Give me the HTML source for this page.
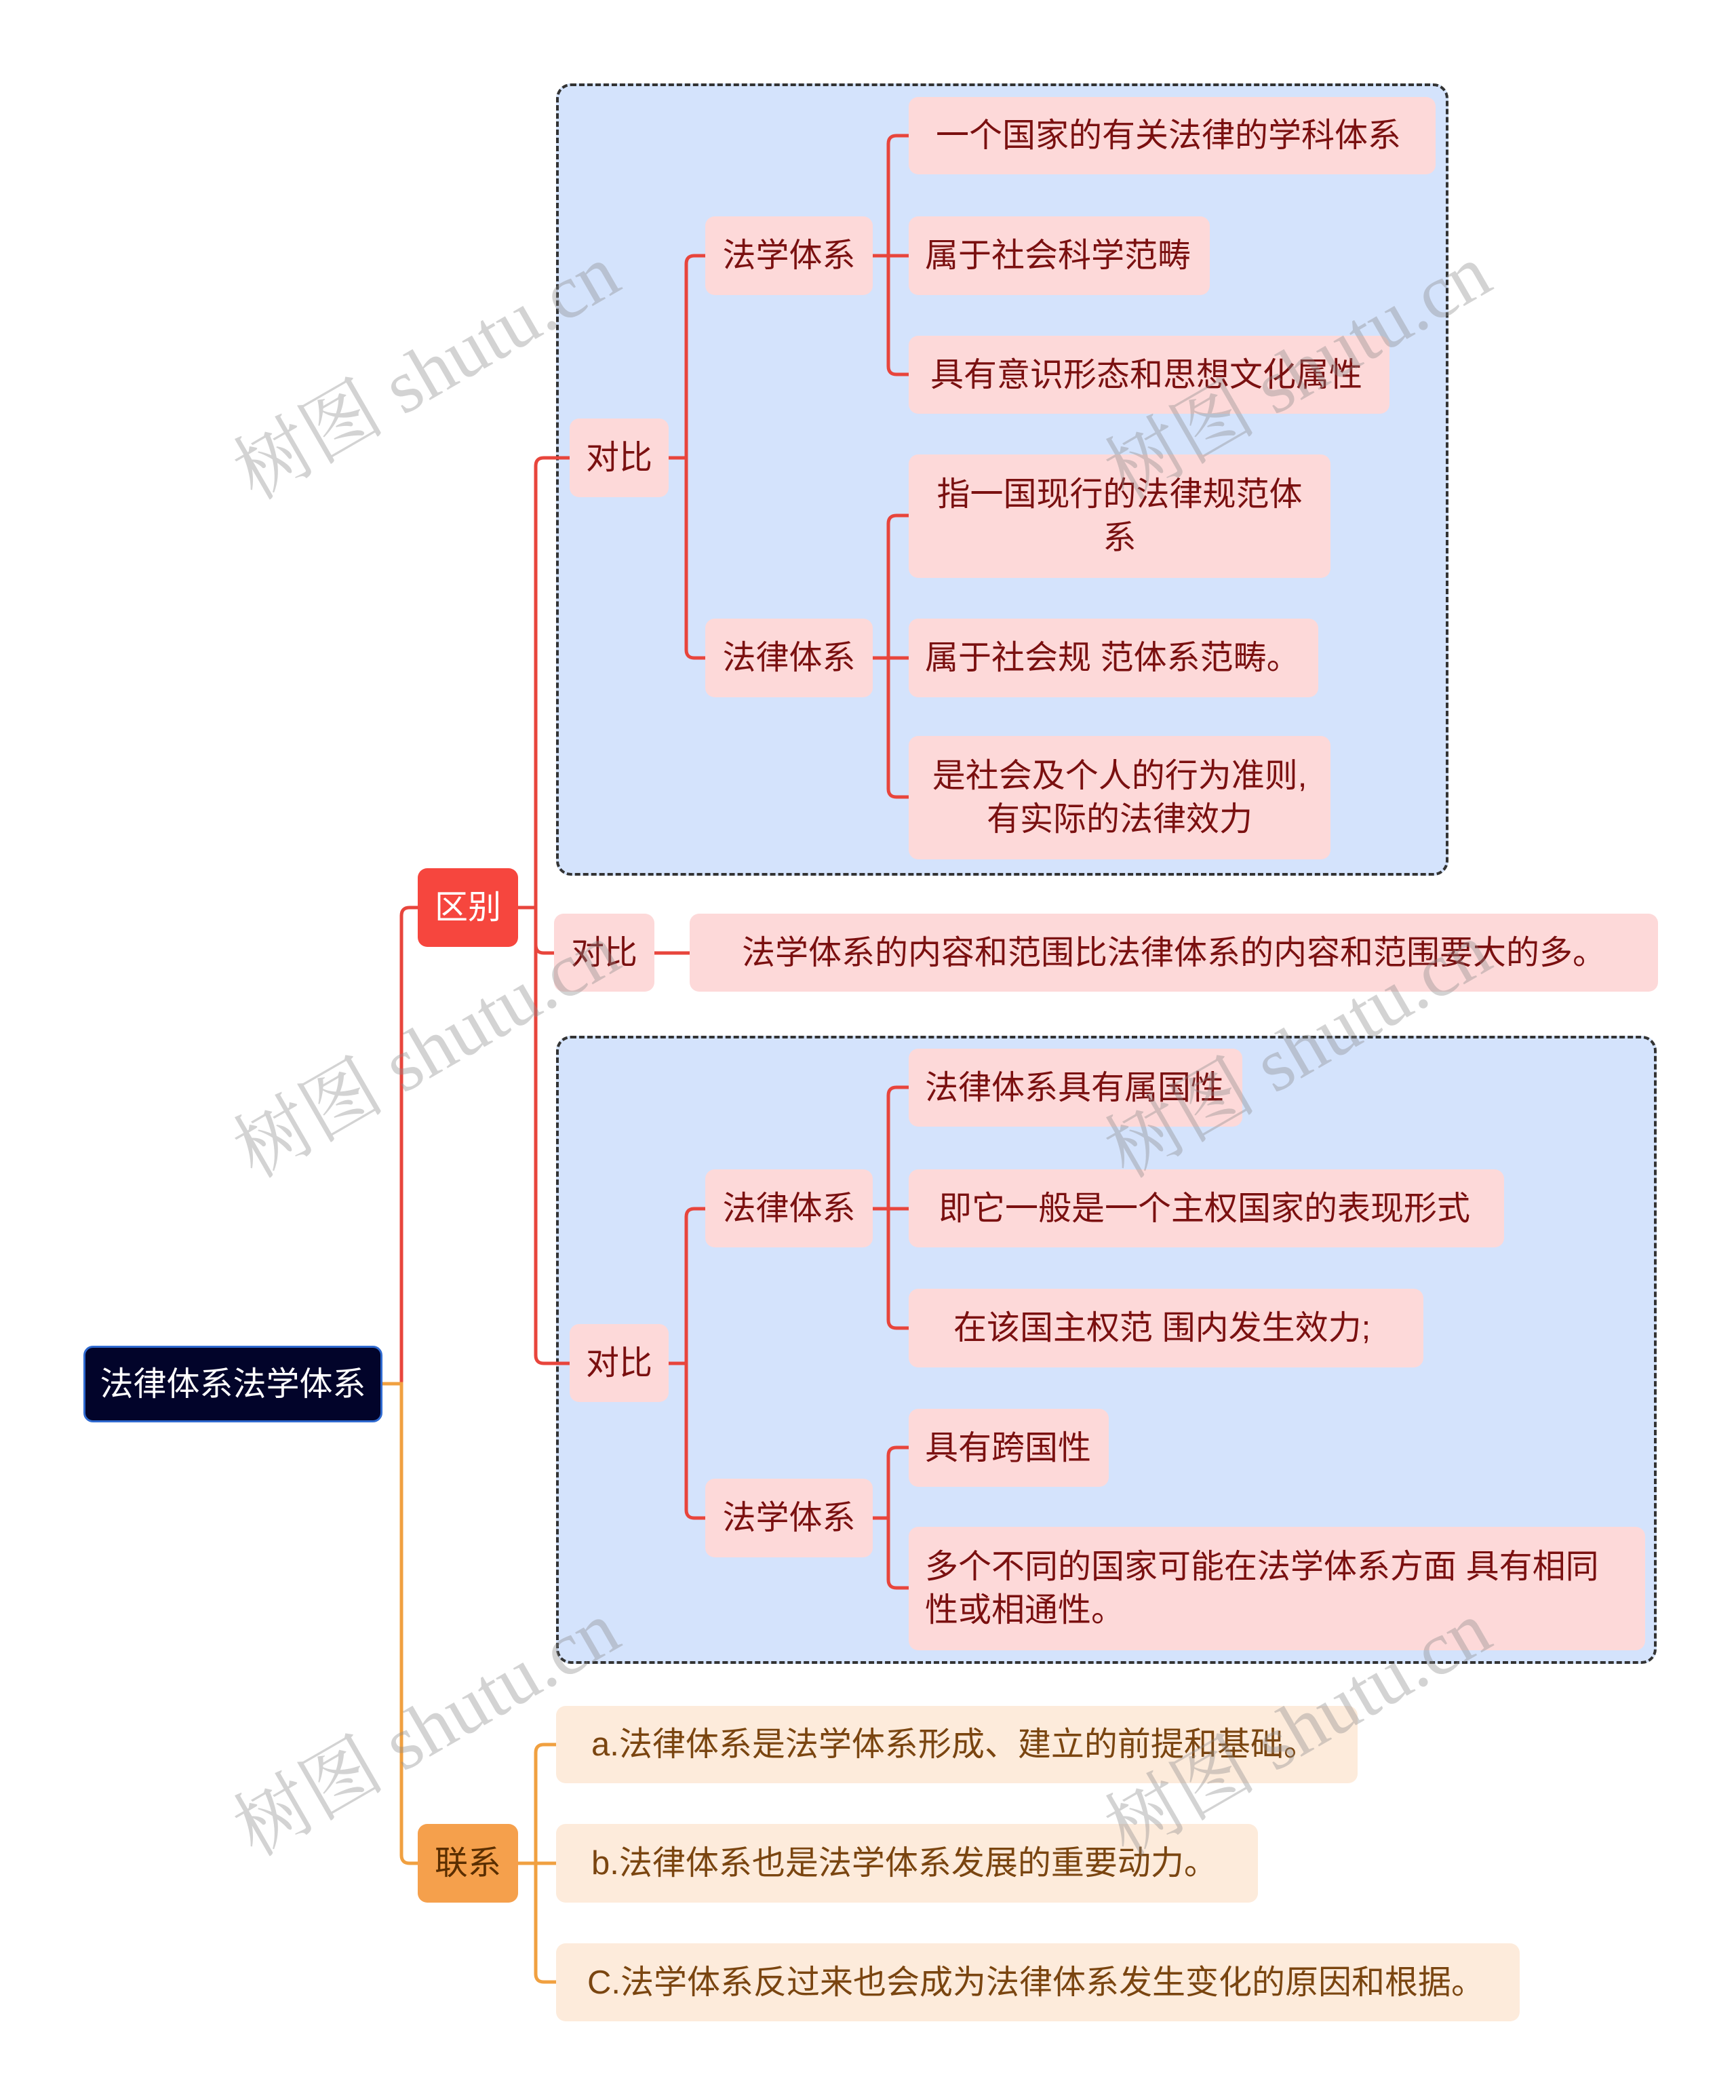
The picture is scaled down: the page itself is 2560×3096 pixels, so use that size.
<!DOCTYPE html>
<html><head><meta charset="utf-8"><style>
html,body{margin:0;padding:0;background:#fff;}
body{width:2560px;height:3096px;position:relative;overflow:hidden;font-family:"Liberation Sans","Noto Sans CJK SC",sans-serif;}
.n{position:absolute;box-sizing:border-box;display:flex;align-items:center;border-radius:14px;font-size:49px;line-height:64px;}
.p{background:#fdd9d9;color:#7a1010;padding:0 24px;}
.c{justify-content:center;text-align:center;}
.o{background:#fdebdb;color:#7a4510;padding:0 52px;}
.box{position:absolute;box-sizing:border-box;background:#d4e3fc;border:4px dashed #333;border-radius:22px;}
.wm{position:absolute;font-family:"Liberation Serif","Noto Serif CJK SC",serif;font-size:112px;color:rgba(140,140,140,0.38);transform:rotate(-30deg);white-space:nowrap;transform-origin:center;}
svg{position:absolute;left:0;top:0;}
</style></head><body>
<div class="box" style="left:820px;top:123px;width:1316px;height:1168px;"></div>
<div class="box" style="left:820px;top:1527px;width:1623px;height:926px;"></div>

<svg width="2560" height="3096" fill="none" stroke-width="5">
<g stroke="#e8453c">
<path d="M562 2040 H592 V1350 Q592 1338 604 1338 H616"/>
<path d="M764 1338 H790 V687 Q790 675 802 675 H840"/>
<path d="M790 1338 V1393 Q790 1405 802 1405 H817"/>
<path d="M790 1338 V1998 Q790 2010 802 2010 H840"/>
<path d="M986 675 H1012 V389 Q1012 377 1024 377 H1040"/>
<path d="M1012 675 V958 Q1012 970 1024 970 H1040"/>
<path d="M1287 377 H1310 V212 Q1310 200 1322 200 H1340"/>
<path d="M1310 377 H1340"/>
<path d="M1310 377 V540 Q1310 552 1322 552 H1340"/>
<path d="M1287 970 H1310 V772 Q1310 760 1322 760 H1340"/>
<path d="M1310 970 H1340"/>
<path d="M1310 970 V1163 Q1310 1175 1322 1175 H1340"/>
<path d="M965 1405 H1017"/>
<path d="M986 2010 H1012 V1794 Q1012 1782 1024 1782 H1040"/>
<path d="M1012 2010 V2226 Q1012 2238 1024 2238 H1040"/>
<path d="M1287 1782 H1310 V1615 Q1310 1603 1322 1603 H1340"/>
<path d="M1310 1782 H1340"/>
<path d="M1310 1782 V1946 Q1310 1958 1322 1958 H1340"/>
<path d="M1287 2238 H1310 V2146 Q1310 2134 1322 2134 H1340"/>
<path d="M1310 2238 V2329 Q1310 2341 1322 2341 H1340"/>
</g>
<g stroke="#f0a040">
<path d="M562 2040 H592 V2735 Q592 2747 604 2747 H616"/>
<path d="M764 2747 H790 V2584 Q790 2572 802 2572 H820"/>
<path d="M790 2747 H820"/>
<path d="M790 2747 V2910 Q790 2922 802 2922 H820"/>
</g>
</svg>

<div class="n c" style="left:123px;top:1984px;width:441px;height:113px;background:#02042a;color:#fff;border:3px solid #2f6ad0;">法律体系法学体系</div>
<div class="n c" style="left:616px;top:1280px;width:148px;height:116px;background:#f6463e;color:#fff;">区别</div>
<div class="n c" style="left:616px;top:2689px;width:148px;height:116px;background:#f5a04c;color:#5a2e00;">联系</div>

<div class="n p c" style="left:840px;top:617px;width:146px;height:116px;">对比</div>
<div class="n p c" style="left:1040px;top:319px;width:247px;height:116px;">法学体系</div>
<div class="n p" style="left:1340px;top:143px;width:777px;height:114px;padding-left:40px;">一个国家的有关法律的学科体系</div>
<div class="n p" style="left:1340px;top:319px;width:444px;height:116px;">属于社会科学范畴</div>
<div class="n p" style="left:1340px;top:495px;width:709px;height:115px;padding-left:32px;">具有意识形态和思想文化属性</div>
<div class="n p c" style="left:1040px;top:912px;width:247px;height:116px;">法律体系</div>
<div class="n p c" style="left:1340px;top:670px;width:622px;height:182px;padding:0 30px;">指一国现行的法律规范体系</div>
<div class="n p" style="left:1340px;top:912px;width:604px;height:116px;">属于社会规 范体系范畴。</div>
<div class="n p c" style="left:1340px;top:1085px;width:622px;height:182px;padding:0 26px;">是社会及个人的行为准则,有实际的法律效力</div>

<div class="n p c" style="left:817px;top:1347px;width:148px;height:115px;">对比</div>
<div class="n p c" style="left:1017px;top:1347px;width:1428px;height:115px;">法学体系的内容和范围比法律体系的内容和范围要大的多。</div>

<div class="n p c" style="left:840px;top:1952px;width:146px;height:115px;">对比</div>
<div class="n p c" style="left:1040px;top:1724px;width:247px;height:115px;">法律体系</div>
<div class="n p" style="left:1340px;top:1546px;width:492px;height:115px;">法律体系具有属国性</div>
<div class="n p" style="left:1340px;top:1724px;width:878px;height:115px;padding-left:44px;">即它一般是一个主权国家的表现形式</div>
<div class="n p" style="left:1340px;top:1900px;width:759px;height:116px;padding-left:66px;">在该国主权范 围内发生效力;</div>
<div class="n p c" style="left:1040px;top:2180px;width:247px;height:116px;">法学体系</div>
<div class="n p" style="left:1340px;top:2077px;width:295px;height:115px;">具有跨国性</div>
<div class="n p" style="left:1340px;top:2251px;width:1086px;height:182px;padding-right:60px;">多个不同的国家可能在法学体系方面 具有相同性或相通性。</div>

<div class="n o" style="left:820px;top:2515px;width:1182px;height:114px;padding-left:52px;">a.法律体系是法学体系形成、建立的前提和基础。</div>
<div class="n o" style="left:820px;top:2689px;width:1035px;height:116px;padding-left:52px;">b.法律体系也是法学体系发展的重要动力。</div>
<div class="n o" style="left:820px;top:2865px;width:1421px;height:115px;padding-left:46px;">C.法学体系反过来也会成为法律体系发生变化的原因和根据。</div>

<div class="wm" style="left:310px;top:460px;">树图 shutu.cn</div>
<div class="wm" style="left:1595px;top:460px;">树图 shutu.cn</div>
<div class="wm" style="left:310px;top:1460px;">树图 shutu.cn</div>
<div class="wm" style="left:1595px;top:1460px;">树图 shutu.cn</div>
<div class="wm" style="left:310px;top:2460px;">树图 shutu.cn</div>
<div class="wm" style="left:1595px;top:2460px;">树图 shutu.cn</div>
</body></html>
